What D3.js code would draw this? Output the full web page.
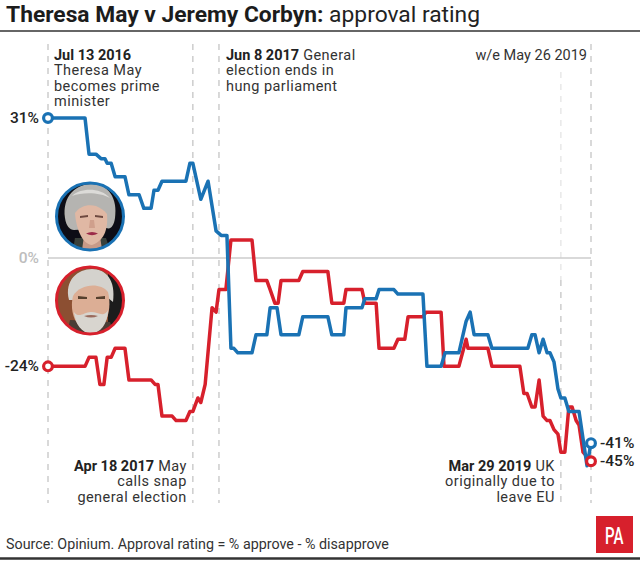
<!DOCTYPE html>
<html>
<head>
<meta charset="utf-8">
<script src="https://cdnjs.cloudflare.com/ajax/libs/d3/7.8.5/d3.min.js"></script>
<style>
  html, body { margin: 0; padding: 0; background: #fff; }
  svg { display: block; }
  text { font-family: Roboto, sans-serif; fill: #222; }
</style>
</head>
<body>
<svg width="640" height="561"></svg>
<script>
const width = 640,
    height = 561,
    blue = "#1a72b4",
    red = "#d7202c",
    grey = "#cdcdcd";

// weeks since Jul 13 2016 and approval rating in %
const mayWeeks = [0, 10.2, 11.3, 13.2, 14.6, 15.7, 16.3, 17.4, 18.5, 21.2, 22.3, 25.1, 26.4, 28.4, 29.2, 30.3, 31.4, 38, 39.1, 39.9, 42.1, 44.1, 46.3, 47.7, 49.3, 50.4, 51.2, 52.3, 56.2, 57.3, 60.3, 61.2, 63.1, 64.2, 69.1, 70.2, 77.1, 78.2, 81.5, 82.1, 86.5, 87.3, 90.4, 91.2, 95.3, 96.4, 103.3, 104.4, 108.3, 109.4, 113.2, 115.2, 116.3, 117.4, 121.2, 122.3, 132.2, 133.3, 134.2, 135.3, 136.4, 137.5, 138.3, 139.4, 140.5, 141.3, 142.4, 143.5, 146.3, 148.5, 149.6];
const mayValues = [31, 31, 23, 23, 22, 22, 21, 21, 18, 18, 14, 14, 11, 11, 15, 15, 17, 17, 21, 21, 13, 17, 6, 5, 5, -20, -20, -21, -21, -17, -17, -11, -11, -17, -17, -13, -13, -17, -17, -11, -11, -9, -9, -7, -7, -8, -8, -24, -24, -21, -21, -14, -12, -17, -17, -20, -20, -17, -17, -21, -18, -21, -21, -23, -29, -31, -31, -34, -34, -46, -41];

const corbynWeeks = [0, 10.2, 11.3, 13.2, 14.3, 15.4, 16.3, 17.4, 18.5, 21.2, 22.3, 28.4, 29.5, 30.3, 31.4, 34.2, 35.3, 38, 39.1, 39.9, 41.3, 42.1, 43.3, 45.2, 46.3, 47.1, 49, 50.4, 56.2, 57.3, 60.3, 61.2, 62.5, 63.4, 64.2, 69.1, 70.2, 77.1, 78.2, 81.5, 82.1, 86.5, 87.3, 90.4, 91.2, 95.3, 96.4, 98.3, 99.2, 103.3, 104.1, 108.3, 109.1, 113.2, 115.2, 115.7, 121.2, 122.3, 130, 131.1, 132, 133.3, 134.2, 135.3, 136.4, 137.5, 138.3, 139.4, 140.5, 141.3, 142.4, 143.5, 144.4, 145.5, 146.3, 147.4, 148.5, 149.6];
const corbynValues = [-24, -24, -22, -22, -28, -28, -22, -22, -20, -20, -27, -27, -28, -28, -35, -35, -36, -36, -34, -34, -31, -32, -28, -11, -12, -7, -7, 4, 4, -5, -5, -7, -10, -10, -5, -5, -3, -3, -10, -10, -7, -7, -10, -10, -20, -20, -18, -18, -13, -13, -12, -12, -24, -24, -18, -20, -20, -24, -24, -30, -30, -33, -33, -27, -35, -36, -36, -38, -39, -43, -43, -33, -33, -36, -37, -43, -44, -45];

// week of each dashed event line
const eventWeeks = [0, 39.9, 47.1, 149.6];
const brexitWeek = 141.3;

const x = d3.scaleLinear().domain([0, 149.6]).range([48, 591]);
const y = d3.scaleLinear().domain([31, -45]).range([118, 461.2]);

const svg = d3.select("svg");

// title
svg.append("text")
    .attr("x", 6).attr("y", 21.5)
    .style("font-size", "22.8px")
    .call(t => t.append("tspan").style("font-weight", 700).style("fill", "#1c1c1c").text("Theresa May v Jeremy Corbyn:"))
    .call(t => t.append("tspan").style("font-weight", 400).text(" approval rating"));

svg.append("line").attr("x1", 0).attr("x2", width).attr("y1", 31).attr("y2", 31)
    .attr("stroke", "#333").attr("stroke-width", 1.5);

// dashed event lines
svg.append("g").selectAll("line")
    .data(eventWeeks)
    .join("line")
    .attr("x1", d => x(d)).attr("x2", d => x(d))
    .attr("y1", 44).attr("y2", 503)
    .attr("stroke", grey)
    .attr("stroke-width", 1.5)
    .attr("stroke-dasharray", "6 6");

// this one fades out towards the top
svg.append("line")
    .attr("x1", x(brexitWeek)).attr("x2", x(brexitWeek))
    .attr("y1", 72).attr("y2", 280)
    .attr("stroke", "#e8e8e8")
    .attr("stroke-width", 1.5)
    .attr("stroke-dasharray", "6 6");
svg.append("line")
    .attr("x1", x(brexitWeek)).attr("x2", x(brexitWeek))
    .attr("y1", 280).attr("y2", 503)
    .attr("stroke", grey)
    .attr("stroke-width", 1.5)
    .attr("stroke-dasharray", "6 6");

// zero line
svg.append("line")
    .attr("x1", x(0)).attr("x2", x(149.6))
    .attr("y1", y(0)).attr("y2", y(0))
    .attr("stroke", grey).attr("stroke-width", 1.5);

const line = (weeks, values) => d3.line()
    .x((d, i) => x(weeks[i]))
    .y(d => y(d))(values);

svg.append("path").attr("d", line(corbynWeeks, corbynValues))
    .attr("fill", "none").attr("stroke", red).attr("stroke-width", 3.5).attr("stroke-linejoin", "round");
svg.append("path").attr("d", line(mayWeeks, mayValues))
    .attr("fill", "none").attr("stroke", blue).attr("stroke-width", 3.5).attr("stroke-linejoin", "round");

// end markers
const markers = [
  { week: 0, value: 31, color: blue },
  { week: 0, value: -24, color: red },
  { week: 149.6, value: -41, color: blue },
  { week: 149.6, value: -45, color: red }
];
svg.append("g").selectAll("circle")
    .data(markers)
    .join("circle")
    .attr("cx", d => x(d.week)).attr("cy", d => y(d.value))
    .attr("r", 4.4)
    .attr("fill", "#fff")
    .attr("stroke", d => d.color)
    .attr("stroke-width", 3.2);

// value labels
const valueLabels = [
  { week: 0, value: 31, text: "31%", anchor: "end", dx: -9, fill: "#222" },
  { week: 0, value: 0, text: "0%", anchor: "end", dx: -9, fill: "#bdbdbd" },
  { week: 0, value: -24, text: "-24%", anchor: "end", dx: -9, fill: "#222" },
  { week: 149.6, value: -41, text: "-41%", anchor: "start", dx: 9, fill: "#222" },
  { week: 149.6, value: -45, text: "-45%", anchor: "start", dx: 9, fill: "#222" }
];
svg.append("g").selectAll("text")
    .data(valueLabels)
    .join("text")
    .attr("x", d => x(d.week) + d.dx)
    .attr("y", d => y(d.value) + 5)
    .attr("text-anchor", d => d.anchor)
    .style("font-size", "15.5px")
    .style("font-weight", 500)
    .style("fill", d => d.fill)
    .text(d => d.text);

// annotations, one entry per line; bold part first where there is one
const notes = [
  { week: 0, dx: 6, anchor: "start", top: 60, spacing: 0.45, lines: [["Jul 13 2016", ""], ["", "Theresa May"], ["", "becomes prime"], ["", "minister"]] },
  { week: 47.1, dx: 7, anchor: "start", top: 60, spacing: 0.45, lines: [["Jun 8 2017", " General"], ["", "election ends in"], ["", "hung parliament"]] },
  { week: 149.6, dx: -4, anchor: "end", top: 60, spacing: 0, lines: [["", "w/e May 26 2019"]] },
  { week: 39.9, dx: -6, anchor: "end", top: 471, spacing: 0.45, lines: [["Apr 18 2017", " May"], ["", "calls snap"], ["", "general election"]] },
  { week: 141.3, dx: -6, anchor: "end", top: 471, spacing: 0.45, lines: [["Mar 29 2019", " UK"], ["", "originally due to"], ["", "leave EU"]] }
];
notes.forEach(n => {
  n.lines.forEach((l, i) => {
    const t = svg.append("text")
        .attr("x", x(n.week) + n.dx)
        .attr("y", n.top + i * 15.4)
        .attr("text-anchor", n.anchor)
        .style("font-size", "14.5px");
    if (l[0]) t.append("tspan").style("font-weight", 700).text(l[0]);
    if (l[1]) t.append("tspan").style("letter-spacing", n.spacing + "px").style("fill", "#333").text(l[1]);
  });
});

// portraits: no photos available offline, so drawn as small shapes
const defs = svg.append("defs");
defs.append("clipPath").attr("id", "clip-may").append("circle").attr("cx", 90).attr("cy", 216.5).attr("r", 34);
defs.append("clipPath").attr("id", "clip-corbyn").append("circle").attr("cx", 90).attr("cy", 300.5).attr("r", 34);
defs.append("filter").attr("id", "soft").append("feGaussianBlur").attr("stdDeviation", 0.7);

const shape = (g, d, fill) => g.append("path").attr("d", d).attr("fill", fill);

const may = svg.append("g").attr("clip-path", "url(#clip-may)").append("g").attr("filter", "url(#soft)");
may.append("rect").attr("x", 54).attr("y", 180).attr("width", 72).attr("height", 72).attr("fill", "#111113");
shape(may, "M75 238 L72 256 L112 256 L106 238 Z", "#39403a");
shape(may, "M84 236 L82 250 L102 250 L100 236 Z", "#c89a88");
shape(may, "M65 218 C62 196 76 184 92 184 C108 184 118 198 115 218 C114 226 110 230 107 228 L74 230 C70 230 66 226 65 218 Z", "#b5b4b1");
shape(may, "M72 196 C80 188 100 187 110 198 C100 192 82 192 72 196 Z", "#dcdbd8");
shape(may, "M75 213 C80 206 88 204 96 206 C100 208 104 210 107 214 C108 226 106 240 92 245 C82 244 76 228 75 213 Z", "#e0b8a4");
shape(may, "M80 216 L88 215 L88 217 L80 218 Z M95 215 L103 216 L103 218 L95 217 Z", "#6e4a40");
shape(may, "M86 233.5 Q92 230.5 98 233.5 Q92 237 86 233.5 Z", "#9c2c48");
shape(may, "M90 220 L94 220 L95 228 L89 228 Z", "#cf9f8c");

const corbyn = svg.append("g").attr("clip-path", "url(#clip-corbyn)").append("g").attr("filter", "url(#soft)");
corbyn.append("rect").attr("x", 54).attr("y", 264).attr("width", 72).attr("height", 72).attr("fill", "#8c4f30");
corbyn.append("rect").attr("x", 108).attr("y", 264).attr("width", 18).attr("height", 72).attr("fill", "#1e1c1b");
shape(corbyn, "M70 320 L66 338 L116 338 L110 322 Z", "#4a3c34");
shape(corbyn, "M69 300 C64 280 78 269 92 269 C106 269 116 280 113 302 L108 298 L74 300 Z", "#d4d2cd");
shape(corbyn, "M73 296 C80 284 100 282 108 292 C112 308 108 328 91 333 C76 330 69 312 73 296 Z", "#dcae95");
shape(corbyn, "M74 312 C79 319 84 312 91 312 C98 312 104 318 108 310 C108 324 100 333 91 334 C82 333 75 324 74 312 Z", "#d8d5cf");
shape(corbyn, "M78 296 L87 297 L87 299 L78 299 Z M96 297 L105 296 L105 299 L96 299 Z", "#57402f");
shape(corbyn, "M84 316 Q91 314 98 316 Q91 319 84 316 Z", "#9a6a5c");

svg.append("circle").attr("cx", 90).attr("cy", 216.5).attr("r", 33.5).attr("fill", "none").attr("stroke", blue).attr("stroke-width", 3);
svg.append("circle").attr("cx", 90).attr("cy", 300.5).attr("r", 33.5).attr("fill", "none").attr("stroke", red).attr("stroke-width", 3);

// footer
svg.append("text")
    .attr("x", 6).attr("y", 549)
    .style("font-size", "14.3px")
    .style("fill", "#333")
    .text("Source: Opinium. Approval rating = % approve - % disapprove");

svg.append("rect").attr("x", 596).attr("y", 516).attr("width", 37).attr("height", 37).attr("fill", red);
svg.append("text")
    .attr("x", 605).attr("y", 544)
    .attr("textLength", 18.5)
    .attr("lengthAdjust", "spacingAndGlyphs")
    .style("font-size", "23px")
    .style("font-weight", 500)
    .style("fill", "#fff")
    .text("PA");

svg.append("line").attr("x1", 0).attr("x2", width).attr("y1", 558.5).attr("y2", 558.5)
    .attr("stroke", "#333").attr("stroke-width", 2.5);
</script>
</body>
</html>
